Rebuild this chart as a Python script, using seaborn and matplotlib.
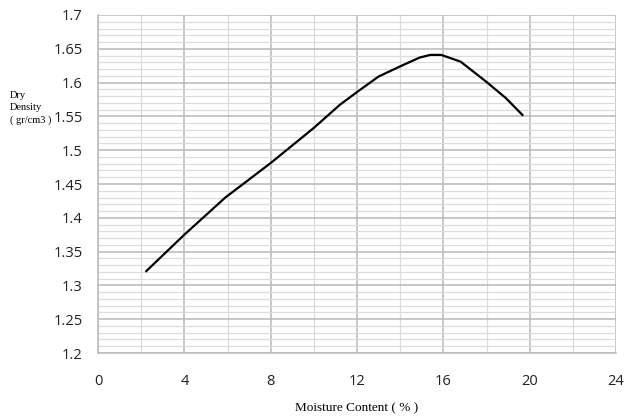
import matplotlib
matplotlib.use("Agg")
import matplotlib.pyplot as plt
from matplotlib.ticker import MultipleLocator
import seaborn as sns
import pandas as pd

# Compaction curve: moisture content (%) vs dry density (gr/cm3)
moisture = [2.2, 4.0, 5.9, 8.0, 10.0, 11.2, 12.0, 13.0, 14.0, 14.9, 15.4, 15.9,
            16.8, 17.4, 18.0, 18.9, 19.7]
density = [1.320, 1.375, 1.430, 1.481, 1.533, 1.567, 1.586, 1.609, 1.624, 1.637,
           1.641, 1.641, 1.631, 1.616, 1.601, 1.577, 1.551]

x_ticks = [0, 4, 8, 12, 16, 20, 24]
y_ticks = [1.2, 1.25, 1.3, 1.35, 1.4, 1.45, 1.5, 1.55, 1.6, 1.65, 1.7]
y_tick_labels = ["1.2", "1.25", "1.3", "1.35", "1.4", "1.45", "1.5", "1.55", "1.6", "1.65", "1.7"]

df = pd.DataFrame({"moisture": moisture, "density": density})

sns.set_style("white")
fig = plt.figure(figsize=(6.27, 4.19), dpi=100)
ax = fig.add_axes([98 / 627, 1 - 353 / 419, (616 - 98) / 627, (353 - 15) / 419])

major_col = "#bdbdbd"
minor_col = "#dcdcdc"

ax.set_xlim(0, 24)
ax.set_ylim(1.2, 1.7)
ax.set_xticks(x_ticks)
ax.set_yticks(y_ticks)
ax.set_yticklabels(y_tick_labels)
ax.xaxis.set_minor_locator(MultipleLocator(2))
ax.yaxis.set_minor_locator(MultipleLocator(0.01))

ax.grid(which="major", color=major_col, linewidth=1.2, zorder=0)
ax.grid(which="minor", color=minor_col, linewidth=0.9, zorder=0)
ax.set_axisbelow(True)

for side in ["top", "right"]:
    ax.spines[side].set_visible(False)
for side in ["left", "bottom"]:
    ax.spines[side].set_color(major_col)
    ax.spines[side].set_linewidth(1.2)

ax.tick_params(which="major", direction="out", length=5, width=1.2, color=major_col,
               labelsize=10.5, labelcolor="#222222", pad=6)
ax.tick_params(which="minor", length=0)
for lab in ax.get_xticklabels() + ax.get_yticklabels():
    lab.set_family(["Open Sans", "DejaVu Sans"])
ax.tick_params(axis="x", pad=10)

sns.lineplot(data=df, x="moisture", y="density", ax=ax, color="black",
             linewidth=1.6, sort=False, zorder=3,
             solid_joinstyle="round", solid_capstyle="butt")

ax.set_xlabel("")
ax.set_ylabel("")
fig.text(0.5 * (98 + 616) / 627, 1 - 408 / 419, "Moisture Content ( % )",
         ha="center", va="center", family="Liberation Serif", fontsize=9.5, color="black")
fig.text(10 / 627, 1 - 108 / 419, "Dry\nDensity\n( gr/cm3 )",
         ha="left", va="center", family="Liberation Serif", fontsize=7.5,
         linespacing=1.45, color="black")

fig.savefig("out.png", dpi=100, facecolor="white")
